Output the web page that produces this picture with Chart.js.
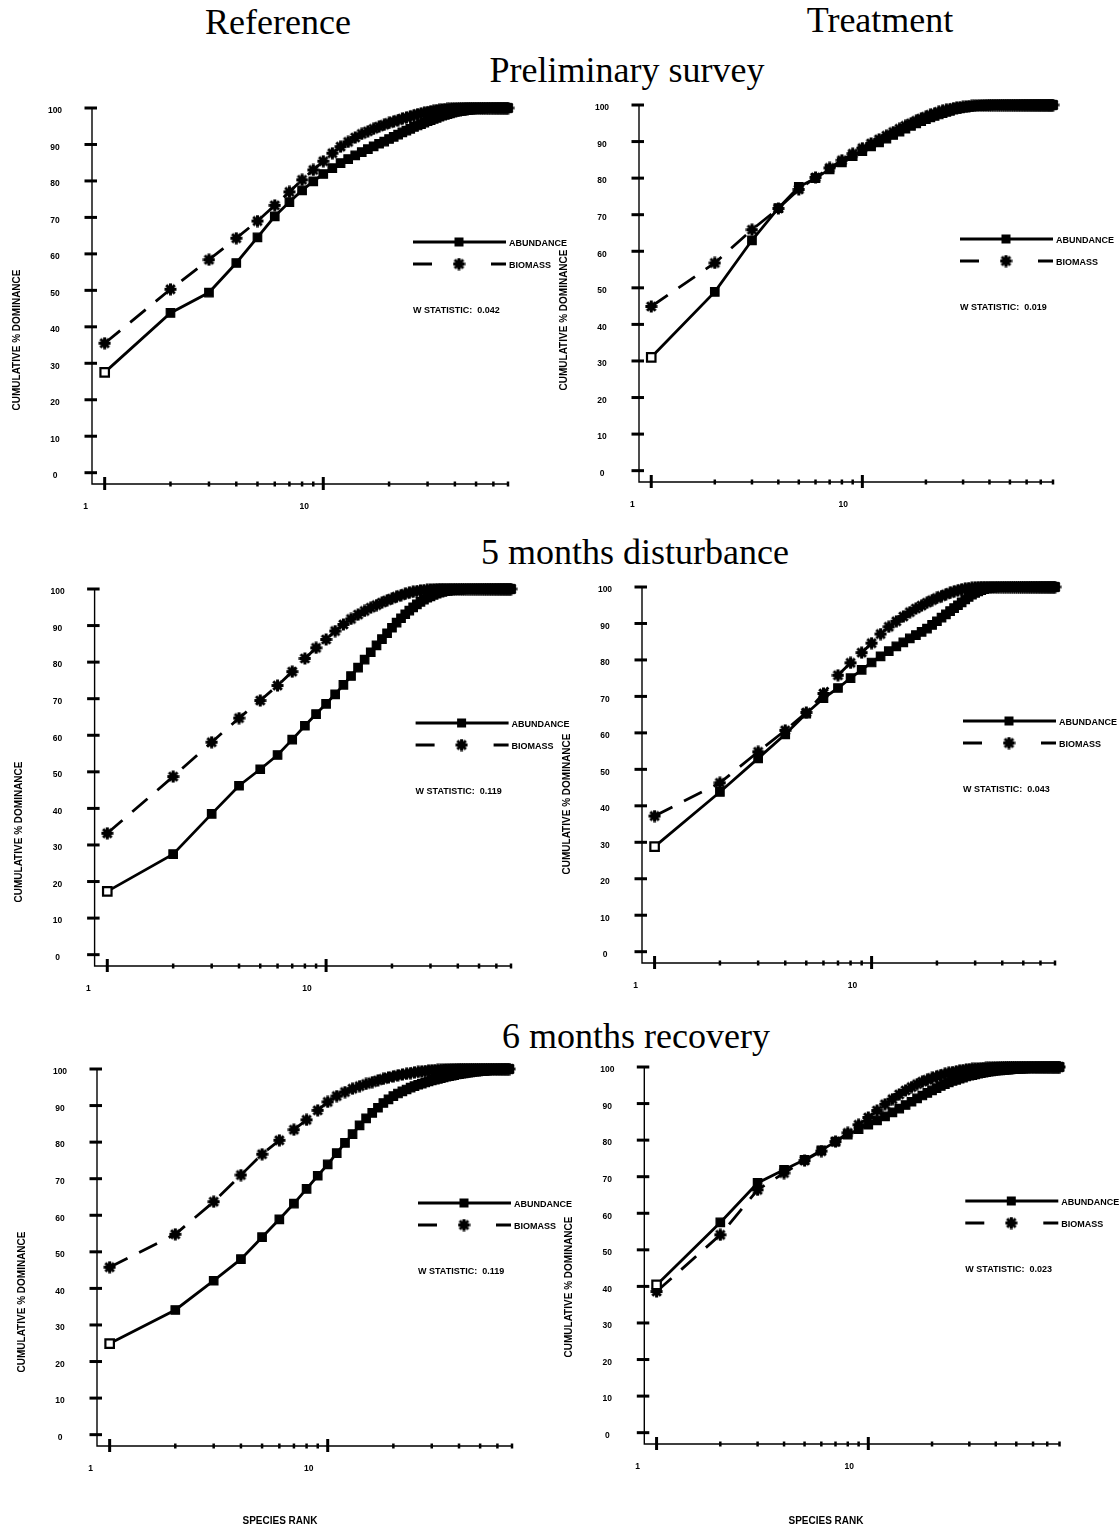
<!DOCTYPE html>
<html>
<head>
<meta charset="utf-8">
<script src="https://cdn.jsdelivr.net/npm/chart.js@4.4.1/dist/chart.umd.min.js"></script>
<style>
  html, body { margin: 0; padding: 0; background: #fff; }
  #page { position: relative; width: 1120px; height: 1529px; overflow: hidden; background: #fff; }
  .head { position: absolute; font-family: 'Liberation Serif', 'Times New Roman', serif; font-size: 36px;
          line-height: 36px; white-space: nowrap; transform: translate(-50%, -50%); color: #000; }
  canvas { position: absolute; }
</style>
</head>
<body>
<div id="page">
  <div class="head" style="left:278px;top:22px">Reference</div>
  <div class="head" style="left:880px;top:20px">Treatment</div>
  <div class="head" style="left:627px;top:70px">Preliminary survey</div>
  <div class="head" style="left:635px;top:552px">5 months disturbance</div>
  <div class="head" style="left:636px;top:1036px">6 months recovery</div>
</div>
<script>
// Cumulative % dominance by species rank (k-dominance / ABC curves)

// Preliminary survey — reference site
const prelimRefAbundance = [
  27.5, 43.8, 49.4, 57.5, 64.5, 70.3, 74.2, 77.4, 79.9, 81.9,
  83.5, 84.9, 86.0, 87.0, 87.9, 88.7, 89.5, 90.2, 90.8, 91.5,
  92.1, 92.7, 93.3, 93.8, 94.3, 94.8, 95.2, 95.6, 96.0, 96.4,
  96.7, 97.0, 97.3, 97.6, 97.9, 98.1, 98.3, 98.5, 98.7, 98.9,
  99.0, 99.1, 99.2, 99.3, 99.4, 99.5, 99.55, 99.6, 99.65, 99.7,
  99.75, 99.8, 99.85, 99.9, 99.95, 100, 100, 100, 100, 100,
  100, 100, 100, 100, 100, 100, 100, 100, 100, 100
];
const prelimRefBiomass = [
  35.5, 50.3, 58.4, 64.3, 69.0, 73.3, 77.0, 80.3, 83.0, 85.4,
  87.6, 89.4, 90.7, 91.9, 92.9, 93.6, 94.3, 94.9, 95.4, 95.9,
  96.3, 96.7, 97.1, 97.4, 97.7, 98.0, 98.3, 98.5, 98.7, 98.9,
  99.1, 99.2, 99.4, 99.5, 99.6, 99.7, 99.75, 99.8, 99.85, 99.9,
  99.92, 99.94, 99.96, 99.98, 100, 100, 100, 100, 100, 100,
  100, 100, 100, 100, 100, 100, 100, 100, 100, 100,
  100, 100, 100, 100, 100, 100, 100, 100, 100, 100
];
// Preliminary survey — treatment site
const prelimTrtAbundance = [
  31.0, 48.9, 63.0, 71.8, 77.6, 80.0, 82.4, 84.3, 86.0, 87.4,
  88.7, 89.8, 90.8, 91.8, 92.7, 93.5, 94.3, 95.0, 95.6, 96.1,
  96.6, 97.0, 97.4, 97.8, 98.1, 98.4, 98.7, 98.9, 99.1, 99.3,
  99.4, 99.5, 99.6, 99.65, 99.7, 99.75, 99.8, 99.85, 99.9, 99.92,
  99.94, 99.96, 99.98, 100, 100, 100, 100, 100, 100, 100,
  100, 100, 100, 100, 100, 100, 100, 100, 100, 100,
  100, 100, 100, 100, 100, 100, 100, 100, 100, 100,
  100, 100, 100, 100, 100, 100, 100, 100, 100, 100
];
const prelimTrtBiomass = [
  44.9, 56.8, 65.9, 71.7, 76.9, 80.2, 82.8, 84.9, 86.7, 88.2,
  89.5, 90.6, 91.6, 92.6, 93.5, 94.3, 95.0, 95.7, 96.3, 96.8,
  97.3, 97.7, 98.1, 98.4, 98.7, 98.9, 99.1, 99.3, 99.4, 99.5,
  99.6, 99.7, 99.75, 99.8, 99.85, 99.9, 99.93, 99.96, 99.98, 100,
  100, 100, 100, 100, 100, 100, 100, 100, 100, 100,
  100, 100, 100, 100, 100, 100, 100, 100, 100, 100,
  100, 100, 100, 100, 100, 100, 100, 100, 100, 100,
  100, 100, 100, 100, 100, 100, 100, 100, 100, 100
];
// 5 months disturbance — reference site
const disturbRefAbundance = [
  17.3, 27.5, 38.5, 46.2, 50.7, 54.6, 58.8, 62.6, 65.8, 68.6,
  71.2, 73.8, 76.2, 78.5, 80.7, 82.7, 84.6, 86.3, 87.9, 89.4,
  90.8, 92.0, 93.1, 94.1, 95.0, 95.8, 96.5, 97.1, 97.6, 98.0,
  98.4, 98.7, 99.0, 99.2, 99.4, 99.5, 99.6, 99.7, 99.75, 99.8,
  99.85, 99.9, 99.93, 99.96, 99.98, 100, 100, 100, 100, 100,
  100, 100, 100, 100, 100, 100, 100, 100, 100, 100,
  100, 100, 100, 100, 100, 100, 100, 100, 100, 100
];
const disturbRefBiomass = [
  33.2, 48.7, 58.1, 64.7, 69.5, 73.6, 77.4, 81.0, 83.9, 86.2,
  88.5, 90.3, 91.8, 93.0, 94.0, 94.9, 95.6, 96.3, 96.9, 97.4,
  97.9, 98.3, 98.7, 99.0, 99.25, 99.45, 99.6, 99.7, 99.8, 99.85,
  99.9, 99.95, 100, 100, 100, 100, 100, 100, 100, 100,
  100, 100, 100, 100, 100, 100, 100, 100, 100, 100,
  100, 100, 100, 100, 100, 100, 100, 100, 100, 100,
  100, 100, 100, 100, 100, 100, 100, 100, 100, 100
];
// 5 months disturbance — treatment site
const disturbTrtAbundance = [
  28.8, 43.8, 53.0, 59.6, 65.3, 69.5, 72.3, 75.0, 77.3, 79.3,
  81.0, 82.4, 83.7, 84.8, 85.9, 86.8, 87.7, 88.6, 89.6, 90.6,
  91.6, 92.5, 93.4, 94.2, 95.0, 95.8, 96.6, 97.3, 97.9, 98.4,
  98.8, 99.1, 99.4, 99.6, 99.75, 99.85, 99.9, 99.95, 100, 100,
  100, 100, 100, 100, 100, 100, 100, 100, 100, 100,
  100, 100, 100, 100, 100, 100, 100, 100, 100, 100,
  100, 100, 100, 100, 100, 100, 100, 100, 100, 100
];
const disturbTrtBiomass = [
  37.2, 46.3, 54.8, 60.7, 65.6, 70.8, 75.8, 79.2, 82.0, 84.6,
  87.1, 89.1, 90.6, 91.9, 93.1, 94.1, 94.9, 95.7, 96.4, 97.0,
  97.5, 98.0, 98.4, 98.8, 99.1, 99.35, 99.55, 99.7, 99.8, 99.9,
  99.95, 100, 100, 100, 100, 100, 100, 100, 100, 100,
  100, 100, 100, 100, 100, 100, 100, 100, 100, 100,
  100, 100, 100, 100, 100, 100, 100, 100, 100, 100,
  100, 100, 100, 100, 100, 100, 100, 100, 100, 100
];
// 6 months recovery — reference site
const recoveryRefAbundance = [
  24.9, 34.1, 42.1, 48.0, 54.0, 58.9, 63.2, 67.2, 70.8, 73.9,
  77.0, 79.8, 82.2, 84.6, 86.5, 88.0, 89.4, 90.7, 91.7, 92.6,
  93.3, 93.9, 94.4, 94.9, 95.3, 95.7, 96.0, 96.3, 96.6, 96.9,
  97.1, 97.3, 97.5, 97.7, 97.9, 98.05, 98.2, 98.35, 98.5, 98.6,
  98.7, 98.8, 98.9, 99.0, 99.1, 99.2, 99.25, 99.3, 99.35, 99.4,
  99.45, 99.5, 99.55, 99.6, 99.65, 99.7, 99.75, 99.8, 99.82, 99.85,
  99.88, 99.9, 99.92, 99.94, 99.96, 99.98, 99.99, 100
];
const recoveryRefBiomass = [
  45.8, 54.8, 63.7, 71.0, 76.7, 80.5, 83.4, 86.1, 88.7, 91.0,
  92.6, 93.7, 94.6, 95.3, 95.9, 96.4, 96.9, 97.3, 97.7, 98.0,
  98.3, 98.5, 98.7, 98.9, 99.1, 99.2, 99.35, 99.45, 99.55, 99.65,
  99.7, 99.75, 99.8, 99.85, 99.9, 99.92, 99.94, 99.96, 99.98, 100,
  100, 100, 100, 100, 100, 100, 100, 100, 100, 100,
  100, 100, 100, 100, 100, 100, 100, 100, 100, 100,
  100, 100, 100, 100, 100, 100, 100, 100
];
// 6 months recovery — treatment site
const recoveryTrtAbundance = [
  40.4, 57.5, 68.3, 71.9, 74.6, 77.2, 79.6, 81.5, 83.0, 84.2,
  85.4, 86.5, 87.6, 88.6, 89.6, 90.5, 91.4, 92.2, 92.9, 93.6,
  94.2, 94.8, 95.3, 95.8, 96.2, 96.5, 96.8, 97.1, 97.4, 97.6,
  97.8, 98.0, 98.15, 98.3, 98.45, 98.6, 98.7, 98.8, 98.9, 99.0,
  99.05, 99.1, 99.15, 99.2, 99.25, 99.3, 99.35, 99.4, 99.45, 99.5,
  99.52, 99.55, 99.58, 99.6, 99.63, 99.66, 99.69, 99.72, 99.75, 99.78,
  99.8, 99.82, 99.84, 99.86, 99.88, 99.9, 99.91, 99.92, 99.93, 99.94,
  99.95, 99.96, 99.97, 99.98, 99.985, 99.99, 99.995, 100, 100, 100
];
const recoveryTrtBiomass = [
  38.6, 54.1, 66.4, 71.0, 74.4, 77.0, 79.6, 82.0, 84.2, 86.2,
  88.1, 89.8, 91.2, 92.5, 93.6, 94.5, 95.3, 96.0, 96.5, 97.0,
  97.4, 97.8, 98.1, 98.4, 98.6, 98.8, 99.0, 99.15, 99.3, 99.4,
  99.5, 99.55, 99.6, 99.65, 99.7, 99.75, 99.8, 99.83, 99.86, 99.89,
  99.92, 99.94, 99.96, 99.98, 100, 100, 100, 100, 100, 100,
  100, 100, 100, 100, 100, 100, 100, 100, 100, 100,
  100, 100, 100, 100, 100, 100, 100, 100, 100, 100,
  100, 100, 100, 100, 100, 100, 100, 100, 100, 100
];

const wStatistics = ['0.042', '0.019', '0.119', '0.043', '0.119', '0.023'];
const seriesNames = ['ABUNDANCE', 'BIOMASS'];

// Axis ticks
const yTickValues = [0, 10, 20, 30, 40, 50, 60, 70, 80, 90, 100];
const yTickLabels = ['0', '10', '20', '30', '40', '50', '60', '70', '80', '90', '100'];
const xTickValues = [1, 2, 3, 4, 5, 6, 7, 8, 9, 10, 20, 30, 40, 50, 60, 70, 80];
const xMajorTicks = [1, 10];
const xTickLabels = ['1', '10'];
const yAxisTitle = 'CUMULATIVE % DOMINANCE';
const xAxisTitle = 'SPECIES RANK';

// Panel placement on the page (pixels)
const panels = [
  { abundance: prelimRefAbundance,   biomass: prelimRefBiomass,   w: wStatistics[0], xMax: 70,
    canvas: [0, 80, 600, 450],    axisX: 92,    topY: 108,  axisY: 484,  rightX: 508,    titleY: 340,  rankTitle: false },
  { abundance: prelimTrtAbundance,   biomass: prelimTrtBiomass,   w: wStatistics[1], xMax: 80,
    canvas: [540, 80, 580, 450],  axisX: 639,   topY: 105,  axisY: 482,  rightX: 1053,   titleY: 320,  rankTitle: false },
  { abundance: disturbRefAbundance,  biomass: disturbRefBiomass,  w: wStatistics[2], xMax: 70,
    canvas: [0, 570, 600, 445],   axisX: 94.6,  topY: 589,  axisY: 966,  rightX: 511,    titleY: 832,  rankTitle: false },
  { abundance: disturbTrtAbundance,  biomass: disturbTrtBiomass,  w: wStatistics[3], xMax: 70,
    canvas: [540, 570, 580, 445], axisX: 642,   topY: 587,  axisY: 963,  rightX: 1055,   titleY: 804,  rankTitle: false },
  { abundance: recoveryRefAbundance, biomass: recoveryRefBiomass, w: wStatistics[4], xMax: 70,
    canvas: [0, 1050, 600, 479],  axisX: 97,    topY: 1069, axisY: 1446, rightX: 512,    titleY: 1302, rankTitle: true, rankX: 280 },
  { abundance: recoveryTrtAbundance, biomass: recoveryTrtBiomass, w: wStatistics[5], xMax: 80,
    canvas: [540, 1050, 580, 479], axisX: 644.3, topY: 1067, axisY: 1444, rightX: 1059.5, titleY: 1287, rankTitle: true, rankX: 826 }
];

const FONT = "'Liberation Sans', Arial, Helvetica, sans-serif";

// Filled asterisk marker used for the biomass curve
function makeBurst(size) {
  const c = document.createElement('canvas');
  c.width = size; c.height = size;
  const g = c.getContext('2d');
  const m = size / 2;
  g.fillStyle = '#000';
  g.fillRect(m - 3.5, m - 3.5, 7, 7);
  g.strokeStyle = '#000';
  g.lineWidth = 3;
  for (let k = 0; k < 4; k++) {
    const a = k * Math.PI / 4;
    const r = m - 0.5;
    g.beginPath();
    g.moveTo(m - Math.cos(a) * r, m - Math.sin(a) * r);
    g.lineTo(m + Math.cos(a) * r, m + Math.sin(a) * r);
    g.stroke();
  }
  return c;
}
const burst = makeBurst(13);

function toPoints(values) {
  return values.map((v, i) => ({ x: i + 1, y: v }));
}

// Axes, ticks, labels and the in-panel key
const panelDecor = {
  id: 'panelDecor',
  beforeDatasetsDraw(chart, args, o) {
    const { ctx, chartArea: a } = chart;
    const xs = chart.scales.x, ys = chart.scales.y;
    ctx.save();
    ctx.strokeStyle = '#000';
    ctx.fillStyle = '#000';
    ctx.setLineDash([]);

    const xEnd = xs.getPixelForValue(o.xMax);
    ctx.lineWidth = 1.4;
    ctx.beginPath();
    ctx.moveTo(a.left, ys.getPixelForValue(100) - 1);
    ctx.lineTo(a.left, a.bottom);
    ctx.lineTo(xEnd, a.bottom);
    ctx.stroke();

    // y ticks crossing the axis
    ctx.lineWidth = 3;
    ctx.font = 'bold 8.5px ' + FONT;
    ctx.textAlign = 'center';
    ctx.textBaseline = 'middle';
    yTickValues.forEach((v, i) => {
      const py = ys.getPixelForValue(v);
      ctx.beginPath();
      ctx.moveTo(a.left - 7.5, py);
      ctx.lineTo(a.left + 5, py);
      ctx.stroke();
      ctx.fillText(yTickLabels[i], a.left - 37, py + 3);
    });

    // x ticks crossing the axis
    xTickValues.filter(v => v <= o.xMax).forEach(v => {
      const px = xs.getPixelForValue(v);
      const major = xMajorTicks.includes(v);
      ctx.lineWidth = major ? 3 : 2.5;
      ctx.beginPath();
      ctx.moveTo(px, a.bottom - (major ? 7 : 2.5));
      ctx.lineTo(px, a.bottom + (major ? 6 : 2.5));
      ctx.stroke();
    });
    xMajorTicks.forEach((v, i) => {
      ctx.fillText(xTickLabels[i], xs.getPixelForValue(v) - 19, a.bottom + 23);
    });

    // y axis title
    ctx.font = 'bold 10px ' + FONT;
    ctx.save();
    ctx.translate(a.left - 75, o.titleY - chart.canvas.offsetTop);
    ctx.rotate(-Math.PI / 2);
    ctx.fillText(yAxisTitle, 0, 0);
    ctx.restore();

    if (o.rankTitle) {
      ctx.fillText(xAxisTitle, o.rankX - chart.canvas.offsetLeft, 1521 - chart.canvas.offsetTop);
    }
    ctx.restore();
  },
  afterDatasetsDraw(chart, args, o) {
    const { ctx, chartArea: a } = chart;
    ctx.save();
    ctx.strokeStyle = '#000';
    ctx.fillStyle = '#000';
    const x0 = a.left + 321, x1 = a.left + 414, xm = a.left + 367;
    const y1 = a.top + 134, y2 = a.top + 156;
    ctx.lineWidth = 2.8;
    ctx.setLineDash([]);
    ctx.beginPath();
    ctx.moveTo(x0, y1); ctx.lineTo(x1, y1);
    ctx.stroke();
    ctx.fillRect(xm - 4.5, y1 - 4.5, 9, 9);
    ctx.beginPath();
    ctx.moveTo(x0, y2); ctx.lineTo(a.left + 340, y2);
    ctx.moveTo(a.left + 399, y2); ctx.lineTo(x1, y2);
    ctx.stroke();
    ctx.drawImage(burst, xm - burst.width / 2, y2 - burst.height / 2);

    ctx.font = 'bold 9px ' + FONT;
    ctx.textAlign = 'left';
    ctx.textBaseline = 'middle';
    ctx.fillText(seriesNames[0], a.left + 417, y1 + 2);
    ctx.fillText(seriesNames[1], a.left + 417, y2 + 2);
    ctx.fillText('W STATISTIC:  ' + o.w, x0, a.top + 203);
    ctx.restore();
  }
};

const page = document.getElementById('page');
panels.forEach(p => {
  const [cl, ct, cw, ch] = p.canvas;
  const cv = document.createElement('canvas');
  cv.width = cw; cv.height = ch;
  cv.style.left = cl + 'px'; cv.style.top = ct + 'px';
  cv.style.width = cw + 'px'; cv.style.height = ch + 'px';
  page.appendChild(cv);

  new Chart(cv, {
    type: 'line',
    data: {
      datasets: [
        {
          label: seriesNames[0],
          data: toPoints(p.abundance),
          borderColor: '#000',
          borderWidth: 2.8,
          tension: 0,
          pointStyle: 'rect',
          pointRadius: 6,
          pointBorderColor: '#000',
          pointBorderWidth: c => (c.dataIndex === 0 ? 2.2 : 1.2),
          pointBackgroundColor: c => (c.dataIndex === 0 ? '#fff' : '#000'),
          clip: false
        },
        {
          label: seriesNames[1],
          data: toPoints(p.biomass),
          borderColor: '#000',
          borderWidth: 2.8,
          borderDash: [20, 13],
          tension: 0,
          pointStyle: burst,
          pointRadius: 6,
          clip: false
        }
      ]
    },
    options: {
      responsive: false,
      animation: false,
      devicePixelRatio: 1,
      events: [],
      layout: {
        padding: {
          left: p.axisX - cl,
          top: p.topY - ct,
          right: cl + cw - p.rightX,
          bottom: ct + ch - p.axisY
        }
      },
      scales: {
        x: { type: 'logarithmic', min: 0.875, max: p.xMax, display: false },
        y: { type: 'linear', min: -3.1, max: 100, display: false }
      },
      plugins: {
        legend: { display: false },
        tooltip: { enabled: false },
        panelDecor: { xMax: p.xMax, w: p.w, titleY: p.titleY, rankTitle: p.rankTitle, rankX: p.rankX }
      }
    },
    plugins: [panelDecor]
  });
});
</script>
</body>
</html>
